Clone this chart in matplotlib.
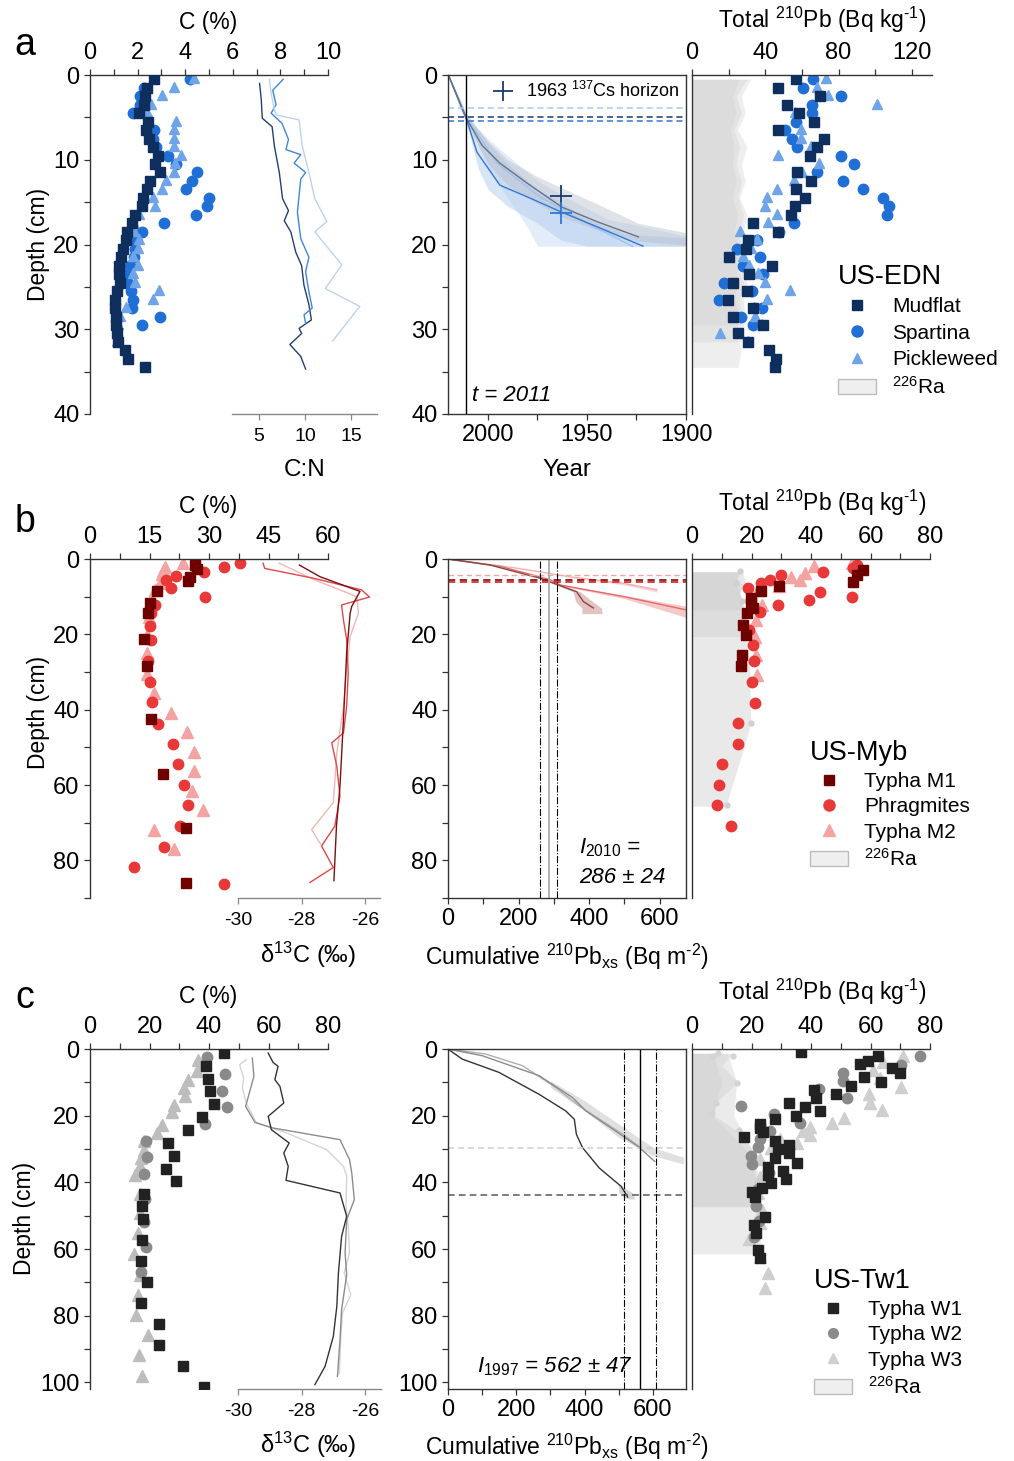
import matplotlib
matplotlib.use('Agg')
import matplotlib.pyplot as plt
from matplotlib.lines import Line2D
from matplotlib.patches import Patch
from matplotlib.ticker import MultipleLocator, FixedLocator

plt.rcParams['font.family'] = ['Liberation Sans', 'DejaVu Sans']
plt.rcParams['mathtext.fontset'] = 'custom'
plt.rcParams['mathtext.rm'] = 'Liberation Sans'
plt.rcParams['mathtext.it'] = 'Liberation Sans:italic'
plt.rcParams['mathtext.bf'] = 'Liberation Sans:bold'
plt.rcParams['axes.linewidth'] = 1.0
plt.rcParams['axes.unicode_minus'] = False
plt.rcParams['xtick.direction'] = 'out'
plt.rcParams['ytick.direction'] = 'out'

# ---------------- DATA: panel a (US-EDN) ----------------
a_mud_c_depth = [0.5,1.5,2.5,3.5,4.5,5.5,6.5,7.5,8.5,9.5,10.5,11.5,12.5,13.5,14.5,15.5,16.5,17.5,18.5,19.5,20.5,21.5,22.5,23.5,24.5,25.5,26.5,27.5,28.5,29.5,30.5,31.5,32.5,33.5,34.5]
a_mud_c = [2.71,2.40,2.29,2.26,2.05,2.43,2.37,2.47,2.65,2.85,2.75,2.93,2.54,2.40,2.23,2.19,1.87,1.77,1.56,1.52,1.39,1.31,1.21,1.21,1.24,1.12,1.03,1.05,1.09,1.09,1.12,1.17,1.46,1.60,2.33]
a_spa_c_depth = [0.5,1.5,2.5,3.5,4.5,6.5,7.5,8.5,9.5,10.5,11.5,12.5,13.5,14.5,15.5,16.5,17.5,18.5,19.5,20.5,21.5,22.5,23.5,24.5,25.5,26.5,27.5,28.5,29.5]
a_spa_c = [4.21,2.26,2.09,2.09,1.80,2.68,2.65,2.79,3.26,3.63,4.49,4.28,4.04,5.02,4.91,4.46,3.12,2.19,1.95,1.87,1.85,1.70,1.60,1.59,1.73,1.81,1.77,2.96,2.19]
a_pic_c_depth = [0.4,1.4,2.4,3.4,4.4,5.4,6.4,7.4,8.4,9.4,10.4,11.4,12.4,13.4,14.4,15.4,16.4,17.4,18.4,19.4,20.4,21.4,22.4,23.4,24.4,25.4,26.4,27.4,28.4,29.4,30.4,31.4]
a_pic_c = [4.38,3.54,3.03,2.57,2.40,3.63,3.54,3.54,3.51,3.82,3.58,3.54,3.21,3.03,2.65,2.75,2.05,1.81,1.84,2.05,2.01,1.81,2.01,1.81,1.87,2.89,2.65,1.53,1.26,1.17,1.12,1.12]

a_mud_cn_depth = [1.0,2.9,5.1,6.1,8.4,11.5,14.6,16.0,17.2,18.5,20.9,22.5,24.8,27.1,28.9,29.9,30.5,31.8,33.2,34.7]
a_mud_cn = [5.07,5.25,5.36,6.43,6.68,7.21,7.57,8.21,7.75,8.46,9.0,9.64,9.89,10.43,10.7,9.36,9.64,8.36,9.54,10.07]
a_spa_cn_depth = [0.5,1.8,3.5,4.5,5.7,7.6,8.8,9.4,10.4,11.5,12.3,16.2,19.3,21.5,23.2,25.6,27.5,28.3,29.3]
a_spa_cn = [7.64,6.5,6.86,6.32,7.5,8.21,7.93,9.54,8.82,10.07,9.54,9.18,9.54,10.43,10.07,10.43,10.79,9.9,10.07]
a_pic_cn_depth = [0.5,2.1,4.1,4.7,5.3,8.4,11.5,14.6,17.3,18.5,22.4,25.2,27.3,31.4]
a_pic_cn = [6.14,6.32,6.68,6.86,9.36,9.71,10.43,11.07,12.39,11.07,14.0,12.21,15.96,13.0]

a_mud_age_year = [2020,2011,2003,1994,1980,1962.6,1945,1924]
a_mud_age_depth = [0,5.1,8.3,10.4,12.8,15.6,17.3,19.1]
a_spa_age_year = [2020,2011,2005.6,1994,1980,1962.6,1945,1921.7]
a_spa_age_depth = [0,5.1,9.1,13.0,14.4,16.2,17.9,20.2]
a_pic_age_year = [2020,2011,1995,1973.7,1950,1927]
a_pic_age_depth = [0,5.0,10.5,14.4,17.5,20.2]
a_mud_band_year = [2020,2015,2011,2000,1990,1975,1963,1945,1924,1900]
a_mud_band_lo = [0,2.5,4.6,7.8,10.0,12.0,13.3,15.2,17.5,18.6]
a_mud_band_hi = [0,3.2,5.6,10.5,13.0,15.2,16.7,18.3,19.6,20.1]
a_spa_band_year = [2020,2015,2011,2005,2000,1990,1975,1963,1950,1930,1900]
a_spa_band_lo = [0,2.5,4.6,6.5,8.0,10.5,13.5,15.0,17.0,18.8,19.2]
a_spa_band_hi = [0,3.5,5.6,11.0,13.5,15.5,17.5,19.5,20.2,20.2,20.2]
a_pic_band_year = [2011,2000,1990,1980,1975,1960,1940,1900]
a_pic_band_lo = [5.0,7.5,9.5,11.5,12.5,14.5,17.0,19.0]
a_pic_band_hi = [5.0,11.0,14.5,18.0,20.2,20.2,20.2,20.2]
a_cs_year = [1963, 1963]
a_cs_depth = [14.3, 16.3]
a_horizon_depth = [3.9, 5.0, 5.4]   # pickleweed, mudflat, spartina
a_t0 = 2011

a_mud_pb_depth = [0.5,1.5,2.5,3.5,4.5,5.5,6.5,7.5,8.5,9.5,11.5,12.5,13.5,14.5,15.5,16.5,17.5,18.5,19.5,20.5,21.5,22.5,23.5,24.5,25.5,26.5,27.5,28.5,29.5,30.5,31.5,32.5,33.5,34.5]
a_mud_pb = [56.7,47.1,69.8,52.0,58.5,66.5,46.7,72.0,68.5,64.4,57.5,64.7,56.7,61.6,56.2,53.8,33.5,47.1,30.7,29.3,20.4,43.5,31.1,22.2,29.8,19.8,33.5,22.2,38.5,25.3,30.7,42.2,45.8,45.3]
a_spa_pb_depth = [0.5,1.5,2.5,3.5,4.5,5.5,6.5,7.5,8.5,9.5,10.5,11.5,12.5,13.5,14.5,15.5,16.5,17.5,18.5,19.5,20.5,21.5,22.5,23.5,24.5,25.5,26.5,27.5,28.5,29.5]
a_spa_pb = [66.2,60.7,81.6,65.3,65.3,56.7,50.7,54.4,57.5,81.6,88.4,68.5,82.5,93.1,104.4,107.6,106.7,55.6,47.6,35.3,24.7,37.1,28.0,38.5,17.6,32.9,14.9,38.0,26.5,33.1]
a_pic_pb_depth = [0.4,1.4,2.4,3.4,4.4,5.4,6.4,7.4,8.4,9.4,10.4,11.4,12.4,13.4,14.4,15.4,16.4,17.4,18.4,19.4,20.4,21.4,22.4,23.4,24.4,25.4,26.4,27.4,28.4,29.4,30.4,31.4]
a_pic_pb = [72.9,68.0,74.4,101.1,56.2,66.5,59.3,59.3,64.7,47.1,69.5,59.8,55.8,46.2,40.7,39.8,46.2,41.6,26.2,35.3,32.2,28.0,31.3,36.2,39.8,53.5,41.1,34.0,34.4,38.0,15.3,30.7]
a_mud_ra_depth = [0.5,2.5,4.5,6.5,8.5,10.5,12.5,14.5,16.5,18.5,20.5,22.5,24.5,26.5,28.5,30.5,32.5,34.5]
a_mud_ra = [26,22,24,21,23,22,24,22,25,23,26,24,25,23,26,24,27,25]
a_spa_ra_depth = [0.5,2.5,4.5,6.5,8.5,10.5,12.5,14.5,16.5,18.5,20.5,22.5,24.5,26.5,29.5]
a_spa_ra = [30,24,27,23,26,24,27,25,28,26,27,25,28,26,27]
a_pic_ra_depth = [0.5,2.5,4.5,6.5,8.5,10.5,12.5,14.5,16.5,18.5,20.5,22.5,24.5,26.5,28.5,31.5]
a_pic_ra = [32,27,29,25,30,27,29,26,30,28,29,27,30,28,29,27]

# ---------------- DATA: panel b (US-Myb) ----------------
b_m1_c_depth = [1.6,2.7,4.7,5.8,8.6,11.7,14.4,21.3,28.5,42.6,57.2,71.3,85.9]
b_m1_c = [26.4,27.1,25.3,24.6,16.9,15.2,14.6,13.7,14.4,15.4,18.4,24.3,24.3]
b_ph_c_depth = [1.1,2.2,3.4,4.5,5.6,7.8,10.0,12.2,14.4,17.7,21.6,27.2,32.7,38.0,43.7,49.1,54.5,60.0,65.4,70.9,76.4,81.9,86.3]
b_ph_c = [37.8,33.8,28.8,21.8,19.2,20.4,29.0,16.5,15.4,15.2,15.4,14.6,15.0,15.6,17.1,20.9,22.2,23.8,24.7,22.8,18.7,11.2,33.8]
b_m2_c_depth = [1.0,2.0,3.1,4.1,6.3,8.2,10.7,15.3,20.1,25.0,30.4,35.6,40.9,46.0,51.3,56.3,61.6,66.7,71.9,77.1]
b_m2_c = [23.4,19.0,18.4,18.2,17.7,16.5,15.6,14.8,14.4,14.4,14.4,16.1,20.4,24.4,26.1,26.1,25.7,28.5,16.2,21.3]

b_m1_d13_depth = [1.6,4.7,8.6,12.6,14.4,25,42.6,60.3,70.9,85.4]
b_m1_d13 = [-28.07,-27.42,-26.16,-26.42,-26.47,-26.58,-26.68,-26.79,-26.9,-26.98]
b_ph_d13_depth = [1.1,2.5,5.1,8.2,10.1,12.2,16.2,21.4,30.3,39.1,46.2,48.8,55.0,62.9,70.9,76.2,81.9,85.9]
b_ph_d13 = [-29.21,-29.16,-27.63,-26.11,-25.86,-26.74,-26.68,-26.58,-26.53,-26.58,-26.68,-27.05,-26.89,-26.79,-26.95,-27.37,-27.0,-27.74]
b_m2_d13_depth = [1.1,5.4,10.0,14.4,20.6,29.4,39.1,51.5,64.7,71.8,75.7]
b_m2_d13 = [-28.7,-27.63,-26.26,-26.21,-26.47,-26.58,-26.68,-26.89,-27.0,-27.68,-27.4]

b_m1_cum = [0,119,261,365,384,412]
b_m1_cum_depth = [0,1.6,5.1,8.7,11.3,13.0]
b_ph_cum = [0,150,290,318,500,675]
b_ph_cum_depth = [0,2.0,5.5,6.9,10.0,13.5]
b_m2_cum = [0,200,350,500,592]
b_m2_cum_depth = [0,2.5,4.8,6.5,8.2]
b_m1_band_depth = [5.0,8.7,11.3,13.0,14.5]
b_m1_band_lo = [255,355,362,380,380]
b_m1_band_hi = [265,375,410,435,437]
b_ph_band_cum = [290,318,500,675]
b_ph_band_lo = [5.4,6.7,9.7,12.5]
b_ph_band_hi = [5.6,7.1,10.5,15.5]
b_m2_band_cum = [350,500,592]
b_m2_band_lo = [4.6,6.2,7.8]
b_m2_band_hi = [4.9,6.9,8.8]
b_inventory = [286, 24]
b_horizon_depth = [4.3, 5.7, 6.0]   # M2, M1, Phragmites

b_m1_pb_depth = [2.9,4.2,6.0,7.3,8.6,10.4,11.7,13.1,14.4,17.5,20.1,25.4,28.3]
b_m1_pb = [57.5,55.3,54.2,29.2,23.3,19.9,19.9,20.4,18.4,17.3,18.0,16.9,16.5]
b_ph_pb_depth = [1.6,2.5,3.4,4.2,5.6,6.4,7.8,8.8,10.0,11.0,12.2,14.2,18.8,22.8,27.2,32.7,38.2,43.5,49.0,54.5,60.0,65.4,70.9]
b_ph_pb = [55.3,54.2,44.0,30.0,26.3,23.3,18.8,42.9,53.9,39.3,28.9,22.7,19.1,20.4,21.0,20.2,21.3,15.6,15.4,10.0,9.2,8.4,13.1]
b_m2_pb_depth = [1.0,1.9,3.8,4.9,5.6,7.1,8.2,12.2,16.3,20.6,25.4,30.7]
b_m2_pb = [53.9,40.9,37.9,33.4,36.2,29.2,22.1,23.6,21.6,21.2,21.6,21.8]
b_m1_ra_depth = [3.4,5,7,9,11,13.5]
b_m1_ra = [16,15,17,16,17,16]
b_m2_ra_depth = [3.4,6,9,12,15,18,20.6]
b_m2_ra = [17,18,16,17,18,17,18]
b_ph_ra_depth = [3.4,6.4,11.1,20,30,43.5,50,55,60,65.6]
b_ph_ra = [16,14.8,16.9,18.5,19.5,19.7,17.5,15.5,13.5,11.5]
b_ra_pt_depth = [3.1,6.4,11.1,43.5,65.4]
b_ra_pt = [16,14.8,16.9,19.7,11.7]

# ---------------- DATA: panel c (US-Tw1) ----------------
c_w1_c_depth = [1.2,5.2,9.0,12.7,16.5,20.4,24.2,28.2,32.0,35.9,39.7,43.4,47.2,51.0,57.2,63.5,69.9,76.2,82.5,88.9,95.2,101.4]
c_w1_c = [44.9,39.1,39.8,40.2,41.7,37.6,33.1,26.1,28.3,25.7,29.0,18.3,17.5,17.7,17.5,17.2,19.2,17.2,23.1,23.1,31.1,38.2]
c_w2_c_depth = [2.5,7.5,12.5,17.5,22.5,27.5,32.5,37.5,45.0,52.0,59.5,67.0]
c_w2_c = [39.3,45.4,44.5,46.0,38.7,18.9,19.2,18.1,18.4,18.3,18.9,17.3]
c_w3_c_depth = [3.2,4.7,6.7,9.2,11.7,14.0,16.7,19.0,22.7,25.2,27.7,30.2,32.7,35.2,37.7,43.4,49.2,55.2,61.5,67.7,73.7,79.7,85.7,91.7,98.0]
c_w3_c = [36.2,37.3,35.9,33.1,31.5,32.0,28.1,27.6,24.2,22.5,18.3,18.1,17.2,16.7,15.1,16.7,16.9,16.1,14.7,16.7,16.1,15.6,19.5,16.4,17.5]

c_w1_d13_depth = [1.2,4.0,5.2,9.2,11.2,16.2,20.2,24.2,28.2,31.2,35.2,39.4,43.2,50.2,56.2,67.2,77.2,86.2,95.2,100.7]
c_w1_d13 = [-29.05,-28.9,-28.74,-28.84,-28.68,-28.56,-29.05,-28.95,-28.39,-28.56,-28.42,-28.49,-26.79,-26.58,-26.74,-26.84,-26.89,-27.0,-27.26,-27.58]
c_w2_d13_depth = [2.7,8.2,17.2,22.0,23.7,27.2,33.2,37.2,45.2,51.2,61.2,67.7,78.2,87.2,98.2]
c_w2_d13 = [-29.55,-29.5,-29.76,-29.47,-28.9,-26.79,-26.49,-26.42,-26.34,-26.58,-26.63,-26.58,-26.74,-26.79,-26.87]
c_w3_d13_depth = [3.2,4.7,8.7,11.7,16.2,22.2,25.2,30.2,35.2,38.2,47.2,53.2,61.2,67.2,73.7,79.2,87.2,97.4]
c_w3_d13 = [-29.74,-29.95,-29.82,-29.86,-29.74,-29.42,-28.47,-27.21,-26.68,-26.58,-26.6,-26.53,-26.49,-26.66,-26.45,-26.71,-26.77,-26.81]

c_w1_cum = [0,41,149,267,345,370,376,394,443,507,522,526]
c_w1_cum_depth = [0,3,7,13.6,18.6,21.1,25.6,29.6,35.7,41.2,43.7,44.4]
c_w2_cum = [0,100,267,365,404,512,561,605]
c_w2_cum_depth = [0,2,8,14.6,18.6,26.1,29.6,33.7]
c_w3_cum = [0,110,218,316,384,512,561]
c_w3_cum_depth = [0,1.5,5,11.6,17.1,25.6,29.4]
c_band_cum = [300,400,500,600,690]
c_band_lo = [9.5,15.5,22.5,29.5,32.5]
c_band_hi = [11.5,18.5,26.5,32.0,34.5]
c_w1_band_cum = [500,515,530,545]
c_w1_band_lo = [40.5,41.5,42.5,43.5]
c_w1_band_hi = [43.0,44.5,45.0,45.0]
c_inventory = [562, 47]
c_horizon_depth = [29.8, 43.9]

c_w1_pb_depth = [0.8,2.1,3.5,4.6,5.8,7.3,8.5,9.8,11.0,12.3,13.5,14.8,16.1,17.3,18.6,20.0,21.1,22.5,23.8,25.0,26.3,27.6,28.8,30.1,31.3,32.6,34.1,35.3,36.5,37.8,39.1,40.3,41.8,43.0,44.3,50.3,52.8,55.3,60.3,62.8]
c_w1_pb = [36.7,62.6,59.0,56.6,67.1,69.9,57.8,63.4,53.6,40.9,48.5,41.8,32.6,37.9,42.9,34.8,27.8,22.7,22.7,23.8,17.6,27.8,32.5,28.9,32.5,27.8,35.3,25.5,30.6,25.5,31.5,26.4,23.6,20.2,21.3,24.7,21.0,21.6,22.1,22.9]
c_w2_pb_depth = [2.1,4.8,7.1,9.6,12.1,14.6,17.1,19.6,22.1,24.5,27.1,29.5,32.1,34.6,37.1,42.1,47.1,51.5,56.5]
c_w2_pb = [76.6,70.1,50.6,50.8,42.7,52.1,16.5,27.4,36.2,26.1,22.9,22.1,19.9,20.2,25.8,22.1,21.6,22.5,20.7]
c_w3_pb_depth = [2.1,3.8,6.3,8.8,11.3,13.6,16.1,18.3,20.8,22.3,23.5,24.5,25.8,27.1,28.3,29.8,33.1,38.3,43.1,48.3,52.3,57.1,62.3,67.1,71.8]
c_w3_pb = [70.8,64.3,60.7,63.1,70.4,59.5,59.8,63.7,51.0,46.9,39.6,37.3,39.8,29.7,35.3,26.6,22.7,22.9,22.1,23.6,22.7,19.3,22.9,25.5,24.7]
c_w1_ra_depth = [1.3,5,10,16,20,25,31,38,47.3]
c_w1_ra = [13.7,10,15.4,8,7.5,16,21,22,22.7]
c_w2_ra_depth = [1.3,10,20,30,40,47.3]
c_w2_ra = [7,10,7,18,22,22]
c_w3_ra_depth = [1.3,10,20,30,40,50,61.5]
c_w3_ra = [12,15,14,20,22,23,23]
c_ra_pt_depth = [1.1,2.1,2.0,10.1,16.1,19.5,24.3]
c_ra_pt = [8.6,7.0,13.7,15.2,7.9,6.7,15.7]

# ---------------- styling ----------------
W, H = 1014, 1461
fig = plt.figure(figsize=(W/100, H/100), dpi=100)
SP = '#333333'
FS = 16.5
FS_TICK = 17
FS_SMALL = 14

def add_ax(x0, y0, x1, y1):
    return fig.add_axes([x0/W, 1 - y1/H, (x1-x0)/W, (y1-y0)/H])

def ftext(x, y, s, **kw):
    kw.setdefault('fontsize', FS)
    fig.text(x/W, 1 - y/H, s, **kw)

def style(ax, show, top_x=False):
    for k in ['left', 'right', 'top', 'bottom']:
        ax.spines[k].set_visible(k in show)
        ax.spines[k].set_color(SP)
    ax.tick_params(which='both', length=4, width=0.9, color=SP, labelsize=FS_TICK)
    if top_x:
        ax.xaxis.tick_top()
        ax.tick_params(axis='x', pad=4)
    ax.set_facecolor('none')

def left_panel(y0, y1, ymax, cmax, cmaj, cmin, ymaj, ymin):
    ax = add_ax(90, y0, 328, y1)
    style(ax, ['left', 'top'], top_x=True)
    ax.set_xlim(0, cmax)
    ax.set_ylim(ymax, 0)
    ax.xaxis.set_major_locator(MultipleLocator(cmaj))
    ax.xaxis.set_minor_locator(MultipleLocator(cmin))
    ax.yaxis.set_major_locator(MultipleLocator(ymaj))
    ax.yaxis.set_minor_locator(MultipleLocator(ymin))
    return ax

def right_panel(y0, y1, ymax, xmax, xmaj, xmin, x1=930):
    ax = add_ax(692, y0, x1, y1)
    style(ax, ['left', 'top'], top_x=True)
    ax.set_xlim(0, xmax)
    ax.set_ylim(ymax, 0)
    ax.xaxis.set_major_locator(MultipleLocator(xmaj))
    ax.xaxis.set_minor_locator(MultipleLocator(xmin))
    ax.yaxis.set_ticks([])
    return ax

def mid_panel(y0, y1, ymax, ymaj, ymin):
    ax = add_ax(448, y0, 686, y1)
    style(ax, ['left', 'right', 'top', 'bottom'])
    ax.set_ylim(ymax, 0)
    ax.yaxis.set_major_locator(MultipleLocator(ymaj))
    ax.yaxis.set_minor_locator(MultipleLocator(ymin))
    return ax

def bottom_axis(y0, y1, x0, x1, lo, hi, ticks, ymax):
    ax = add_ax(x0, y0, x1, y1)
    style(ax, ['bottom'])
    ax.set_xlim(lo, hi)
    ax.set_ylim(ymax, 0)
    ax.xaxis.set_major_locator(FixedLocator(ticks))
    ax.yaxis.set_ticks([])
    ax.tick_params(axis='x', labelsize=FS_SMALL, pad=6)
    ax.spines['bottom'].set_color('#888888')
    ax.tick_params(axis='x', color='#888888')
    return ax

def ra_fill(ax, d, v, alpha=0.35):
    ax.fill_betweenx(d, 0, v, color='#cfcfcf', alpha=alpha, lw=0, zorder=0)

def legend(ax, x, y, title, labels, colors, markers, sizes, spacing=0.35):
    handles = [Line2D([], [], ls='none', marker=m, color=c, markersize=s)
               for c, m, s in zip(colors, markers, sizes)]
    handles.append(Patch(facecolor='#efefef', edgecolor='#bdbdbd'))
    labs = list(labels) + [r'$^{226}$Ra']
    lg = ax.legend(handles, labs, loc='upper left', bbox_to_anchor=(x/W, 1 - y/H),
                   bbox_transform=fig.transFigure, frameon=False, title=title,
                   title_fontsize=19.5, fontsize=15, alignment='left',
                   handlelength=1.8, handletextpad=0.8, labelspacing=spacing,
                   borderaxespad=0, borderpad=0)
    return lg

# ================= PANEL A =================
A0, A1 = 75, 414
blue_d, blue_m, blue_l = '#0e2f5e', '#1f6fd6', '#6fa5e8'
axL = left_panel(A0, A1, 40, 10, 2, 1, 10, 5)
axL.plot(a_mud_c, a_mud_c_depth, 's', color=blue_d, ms=6.5, zorder=3)
axL.plot(a_spa_c, a_spa_c_depth, 'o', color=blue_m, ms=7.5, zorder=2)
axL.plot(a_pic_c, a_pic_c_depth, '^', color=blue_l, ms=7.5, zorder=2)
axCN = bottom_axis(A0, A1, 232, 377, 2.07, 17.83, [5, 10, 15], 40)
axCN.plot(a_mud_cn, a_mud_cn_depth, color='#23406e', lw=1.0)
axCN.plot(a_spa_cn, a_spa_cn_depth, color='#3f86dc', lw=1.0)
axCN.plot(a_pic_cn, a_pic_cn_depth, color='#bcd3f0', lw=1.0)

axM = mid_panel(A0, A1, 40, 10, 5)
axM.set_xlim(2020.2, 1900)
axM.xaxis.set_major_locator(MultipleLocator(50))
axM.xaxis.set_minor_locator(MultipleLocator(25))
axM.fill_between(a_pic_band_year, a_pic_band_lo, a_pic_band_hi, color='#c9dcf5', alpha=0.5, lw=0)
axM.fill_between(a_spa_band_year, a_spa_band_lo, a_spa_band_hi, color='#b3cdef', alpha=0.5, lw=0)
axM.fill_between(a_mud_band_year, a_mud_band_lo, a_mud_band_hi, color='#b9bfc9', alpha=0.45, lw=0)
axM.plot(a_pic_age_year, a_pic_age_depth, color='#9fc2ec', lw=1.0)
axM.plot(a_spa_age_year, a_spa_age_depth, color='#2f78d8', lw=1.0)
axM.plot(a_mud_age_year, a_mud_age_depth, color='#66728a', lw=1.0)
for d, c in zip(a_horizon_depth, ['#a9c9ef', '#1c3a6b', '#2f78d8']):
    axM.axhline(d, color=c, ls=(0, (4, 2.5)), lw=1.1)
axM.axvline(a_t0, color='black', lw=1.0)
axM.plot(a_cs_year[:1], a_cs_depth[:1], '+', color='#1c3a6b', ms=16, mew=1.3)
axM.plot(a_cs_year[1:], a_cs_depth[1:], '+', color='#2f78d8', ms=16, mew=1.3)
axM.legend([Line2D([], [], ls='none', marker='+', color='#1c3a6b', ms=15, mew=1.3)],
           [r'1963 $^{137}$Cs horizon'], loc='upper right', frameon=False,
           fontsize=13, handletextpad=0.3, borderaxespad=0.15, borderpad=0.2)
axM.text(0.1, 0.055, 't = %d' % a_t0, transform=axM.transAxes,
         fontsize=16, style='italic', va='center')

axR = right_panel(A0, A1, 40, 131, 40, 20, x1=932)
ra_fill(axR, a_mud_ra_depth, a_mud_ra)
ra_fill(axR, a_spa_ra_depth, a_spa_ra)
ra_fill(axR, a_pic_ra_depth, a_pic_ra)
axR.plot(a_mud_pb, a_mud_pb_depth, 's', color=blue_d, ms=6.5, zorder=3)
axR.plot(a_spa_pb, a_spa_pb_depth, 'o', color=blue_m, ms=7.5, zorder=2)
axR.plot(a_pic_pb, a_pic_pb_depth, '^', color=blue_l, ms=7.5, zorder=2)
legend(axR, 838, 264, 'US-EDN', ['Mudflat', 'Spartina', 'Pickleweed'],
       [blue_d, blue_m, blue_l], ['s', 'o', '^'], [7, 8, 7])

# ================= PANEL B =================
B0, B1 = 559, 898
red_d, red_m, red_l = '#6e0000', '#e83838', '#f4a3a3'
bxL = left_panel(B0, B1, 90, 60, 15, 7.5, 20, 10)
bxL.plot(b_m2_c, b_m2_c_depth, '^', color=red_l, ms=8, zorder=2)
bxL.plot(b_ph_c, b_ph_c_depth, 'o', color=red_m, ms=7.5, zorder=2)
bxL.plot(b_m1_c, b_m1_c_depth, 's', color=red_d, ms=7, zorder=3)
bx13 = bottom_axis(B0, B1, 238, 380, -30, -25.53, [-30, -28, -26], 90)
bx13.plot(b_m2_d13, b_m2_d13_depth, color='#f5b5b5', lw=1.0)
bx13.plot(b_ph_d13, b_ph_d13_depth, color='#e04848', lw=1.0)
bx13.plot(b_m1_d13, b_m1_d13_depth, color='#7a1010', lw=1.0)

bxM = mid_panel(B0, B1, 90, 20, 10)
bxM.set_xlim(0, 675)
bxM.xaxis.set_major_locator(MultipleLocator(200))
bxM.xaxis.set_minor_locator(MultipleLocator(100))
bxM.fill_between(b_m2_band_cum, b_m2_band_lo, b_m2_band_hi, color='#f6c9c9', alpha=0.7, lw=0)
bxM.fill_between(b_ph_band_cum, b_ph_band_lo, b_ph_band_hi, color='#f1b3b3', alpha=0.7, lw=0)
bxM.fill_betweenx(b_m1_band_depth, b_m1_band_lo, b_m1_band_hi, color='#d8a9a9', alpha=0.7, lw=0)
bxM.plot(b_m2_cum, b_m2_cum_depth, color='#f3b0b0', lw=1.0)
bxM.plot(b_ph_cum, b_ph_cum_depth, color='#e46a6a', lw=1.0)
bxM.plot(b_m1_cum, b_m1_cum_depth, color='#8a4545', lw=1.0)
for d, c, lw in zip(b_horizon_depth, ['#f3a8a8', '#8b1a1a', '#d83030'], [1.0, 1.3, 1.3]):
    bxM.axhline(d, color=c, ls=(0, (4, 2.5)), lw=lw)
bxM.axvline(b_inventory[0], color='#aaaaaa', lw=1.3)
bxM.axvline(b_inventory[0] - b_inventory[1], color='black', ls='-.', lw=0.8)
bxM.axvline(b_inventory[0] + b_inventory[1], color='black', ls='-.', lw=0.8)
bxM.text(0.55, 0.147, r'$\mathit{I}_{\mathit{2010}}$ =', transform=bxM.transAxes,
         fontsize=16, style='italic', va='center')
bxM.text(0.55, 0.059, '%d ± %d' % (b_inventory[0], b_inventory[1]),
         transform=bxM.transAxes, fontsize=16, style='italic', va='center')

bxR = right_panel(B0, B1, 90, 80, 20, 10)
ra_fill(bxR, b_ph_ra_depth, b_ph_ra, alpha=0.45)
ra_fill(bxR, b_m2_ra_depth, b_m2_ra, alpha=0.45)
ra_fill(bxR, b_m1_ra_depth, b_m1_ra, alpha=0.45)
bxR.plot(b_ra_pt, b_ra_pt_depth, 'o', color='#d0d0d0', ms=3.5)
bxR.plot(b_m2_pb, b_m2_pb_depth, '^', color=red_l, ms=8, zorder=2)
bxR.plot(b_ph_pb, b_ph_pb_depth, 'o', color=red_m, ms=7.5, zorder=2)
bxR.plot(b_m1_pb, b_m1_pb_depth, 's', color=red_d, ms=7, zorder=3)
legend(bxR, 810, 740, 'US-Myb', ['Typha M1', 'Phragmites', 'Typha M2'],
       [red_d, red_m, red_l], ['s', 'o', '^'], [7, 8, 8], spacing=0.3)

# ================= PANEL C =================
C0, C1 = 1049, 1389
g_d, g_m, g_l = '#222222', '#8a8a8a', '#bdbdbd'
cxL = left_panel(C0, C1, 102, 80, 20, 10, 20, 10)
cxL.plot(c_w3_c, c_w3_c_depth, '^', color=g_l, ms=8, zorder=2)
cxL.plot(c_w2_c, c_w2_c_depth, 'o', color=g_m, ms=7.5, zorder=2)
cxL.plot(c_w1_c, c_w1_c_depth, 's', color=g_d, ms=7, zorder=3)
cx13 = bottom_axis(C0, C1, 238, 381, -30, -25.5, [-30, -28, -26], 102)
cx13.plot(c_w3_d13, c_w3_d13_depth, color='#d4d4d4', lw=1.0)
cx13.plot(c_w2_d13, c_w2_d13_depth, color='#8c8c8c', lw=1.0)
cx13.plot(c_w1_d13, c_w1_d13_depth, color='#333333', lw=1.0)

cxM = mid_panel(C0, C1, 102, 20, 10)
cxM.set_xlim(0, 697)
cxM.xaxis.set_major_locator(MultipleLocator(200))
cxM.xaxis.set_minor_locator(MultipleLocator(100))
cxM.fill_between(c_band_cum, c_band_lo, c_band_hi, color='#cccccc', alpha=0.6, lw=0)
cxM.fill_between(c_w1_band_cum, c_w1_band_lo, c_w1_band_hi, color='#bbbbbb', alpha=0.6, lw=0)
cxM.plot(c_w3_cum, c_w3_cum_depth, color='#b0b0b0', lw=1.0)
cxM.plot(c_w2_cum, c_w2_cum_depth, color='#8c8c8c', lw=1.0)
cxM.plot(c_w1_cum, c_w1_cum_depth, color='#333333', lw=1.0)
cxM.axhline(c_horizon_depth[0], color='#d0d0d0', ls=(0, (4, 2.5)), lw=1.1)
cxM.axhline(c_horizon_depth[1], color='#666666', ls=(0, (4, 2.5)), lw=1.2)
cxM.axvline(c_inventory[0], color='black', lw=1.0)
cxM.axvline(c_inventory[0] - c_inventory[1], color='black', ls='-.', lw=0.8)
cxM.axvline(c_inventory[0] + c_inventory[1], color='black', ls='-.', lw=0.8)
cxM.text(0.12, 0.065, r'$\mathit{I}_{\mathit{1997}}$ = %d ± %d' % (c_inventory[0], c_inventory[1]),
         transform=cxM.transAxes, fontsize=16, style='italic', va='center')

cxR = right_panel(C0, C1, 102, 80, 20, 10)
ra_fill(cxR, c_w3_ra_depth, c_w3_ra, alpha=0.4)
ra_fill(cxR, c_w2_ra_depth, c_w2_ra, alpha=0.4)
ra_fill(cxR, c_w1_ra_depth, c_w1_ra, alpha=0.4)
cxR.plot(c_ra_pt, c_ra_pt_depth, 'o', color='#d4d4d4', ms=3.5)
cxR.plot(c_w3_pb, c_w3_pb_depth, '^', color='#cfcfcf', ms=8, zorder=2)
cxR.plot(c_w2_pb, c_w2_pb_depth, 'o', color=g_m, ms=7.5, zorder=2)
cxR.plot(c_w1_pb, c_w1_pb_depth, 's', color=g_d, ms=7, zorder=3)
legend(cxR, 814, 1268, 'US-Tw1', ['Typha W1', 'Typha W2', 'Typha W3'],
       [g_d, g_m, '#cfcfcf'], ['s', 'o', '^'], [7, 7, 7], spacing=0.3)

# ================= LABELS =================
for y, letter in [(45, 'a'), (522, 'b'), (998, 'c')]:
    ftext(25, y, letter, fontsize=27, ha='center', va='center')
for y in [22, 507, 997]:
    ftext(208, y, 'C (%)', ha='center', va='center')
for y in [20, 503, 992]:
    ftext(822, y, r'Total $^{210}$Pb (Bq kg$^{\text{-1}}$)', ha='center', va='center')
ftext(38, 244, 'Depth (cm)', rotation=90, ha='center', va='center')
ftext(38, 712, 'Depth (cm)', rotation=90, ha='center', va='center')
ftext(24, 1218, 'Depth (cm)', rotation=90, ha='center', va='center')
ftext(305, 470, 'C:N', ha='center', va='center', fontsize=17.5)
ftext(567, 470, 'Year', ha='center', va='center', fontsize=17.5)
ftext(308, 955, 'δ$^{13}$C (‰)', ha='center', va='center', fontsize=17)
ftext(308, 1445, 'δ$^{13}$C (‰)', ha='center', va='center', fontsize=17)
ftext(567, 957, r'Cumulative $^{210}$Pb$_{\rm xs}$ (Bq m$^{\text{-2}}$)', ha='center', va='center')
ftext(567, 1447, r'Cumulative $^{210}$Pb$_{\rm xs}$ (Bq m$^{\text{-2}}$)', ha='center', va='center')

fig.savefig('out.png', dpi=100)
